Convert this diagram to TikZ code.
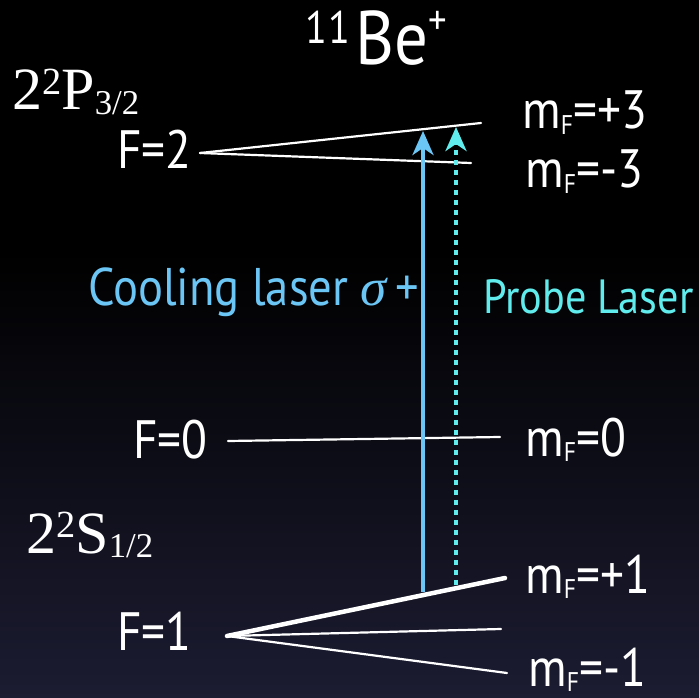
\documentclass[tikz,border=0pt]{standalone}
\usepackage{fontspec}
\setmainfont{PT Sans}[FakeStretch=0.88]
\newfontfamily\termfont{Liberation Serif}
\usetikzlibrary{arrows.meta}

\definecolor{coolblue}{RGB}{108,198,245}
\definecolor{probecyan}{RGB}{96,236,236}
\definecolor{bgnavy}{RGB}{28,28,50}

\newcommand\mFlab{m\raisebox{-0.1em}{\scalebox{0.5}{F}}}

\begin{document}
\begin{tikzpicture}[x=1pt, y=-1pt,
  lvl/.style={white, line width=2.2pt, line cap=round},
  lbl/.style={text=white, inner sep=0pt, font=\fontsize{54}{58}\selectfont},
  term/.style={text=white, inner sep=0pt, font=\termfont\fontsize{60}{64}\selectfont},
  laser/.style={line width=4pt, -{Stealth[length=24pt, width=21pt, inset=7pt]}}]
% background
\useasboundingbox (0,0) rectangle (699,698);
\fill[black] (0,0) rectangle (699,250);
\shade[top color=black, bottom color=bgnavy] (0,250) rectangle (699,698);
% titles
\node[lbl, anchor=base, font=\fontsize{76}{80}\selectfont] (ion) at (376,65)
  {\raisebox{0.28em}{\scalebox{0.6}{1\kern0.04em1}}\kern0.06em Be\raisebox{0.4em}{\scalebox{0.55}{+}}};
\node[term, anchor=base west] (pterm) at (12,110)
  {2\raisebox{0.26em}{\scalebox{0.64}{2}}P\raisebox{-0.08em}{\scalebox{0.58}{3/2}}};
\node[term, anchor=base west] (sterm) at (26,553)
  {2\raisebox{0.26em}{\scalebox{0.64}{2}}S\raisebox{-0.08em}{\scalebox{0.58}{1/2}}};
% level labels
\node[lbl, anchor=base east] (f2) at (192,168) {F=2};
\node[lbl, anchor=base east] (f0) at (208,458) {F=0};
\node[lbl, anchor=base east] (f1) at (192,650) {F=1};
\node[lbl, anchor=base west] (mp3) at (522,129) {\mFlab=+3};
\node[lbl, anchor=base west] (mm3) at (525,188) {\mFlab=-3};
\node[lbl, anchor=base west] (m0) at (525,456) {\mFlab=0};
\node[lbl, anchor=base west] (mp1) at (525,593) {\mFlab=+1};
\node[lbl, anchor=base west] (mm1) at (528,686) {\mFlab=-1};
% level lines
\coordinate (o2) at (200,153);
\coordinate (e3) at (481,123);
\coordinate (e-3) at (471,163);
\coordinate (o0) at (228,441);
\coordinate (e0) at (500,437);
\coordinate (o1) at (227,636);
\coordinate (e1) at (505,578);
\coordinate (ez) at (501,629);
\coordinate (e-1) at (507,673);
\draw[lvl] (o2) -- (e3);
\draw[lvl] (o2) -- (e-3);
\draw[lvl] (o0) -- (e0);
\draw[lvl, line width=4.5pt] (o1) -- (e1);
\draw[lvl] (o1) -- (ez);
\draw[lvl] (o1) -- (e-1);
% lasers
\coordinate (cb) at (423,592);
\coordinate (ct) at (423,131);
\coordinate (pb) at (456,585);
\coordinate (pt) at (456,127);
\draw[laser, coolblue] (cb) -- (ct);
\draw[laser, probecyan, dash pattern=on 5pt off 5pt] (pb) -- (pt);
\node[anchor=base west, inner sep=0pt, text=coolblue, font=\fontsize{53}{57}\selectfont]
  (cool) at (88,305) {Cooling laser {\termfont\itshape σ}\,+};
\node[anchor=base west, inner sep=0pt, text=probecyan, font=\fontsize{48}{52}\selectfont]
  (probe) at (483,313) {Probe Laser};
\end{tikzpicture}
\end{document}
